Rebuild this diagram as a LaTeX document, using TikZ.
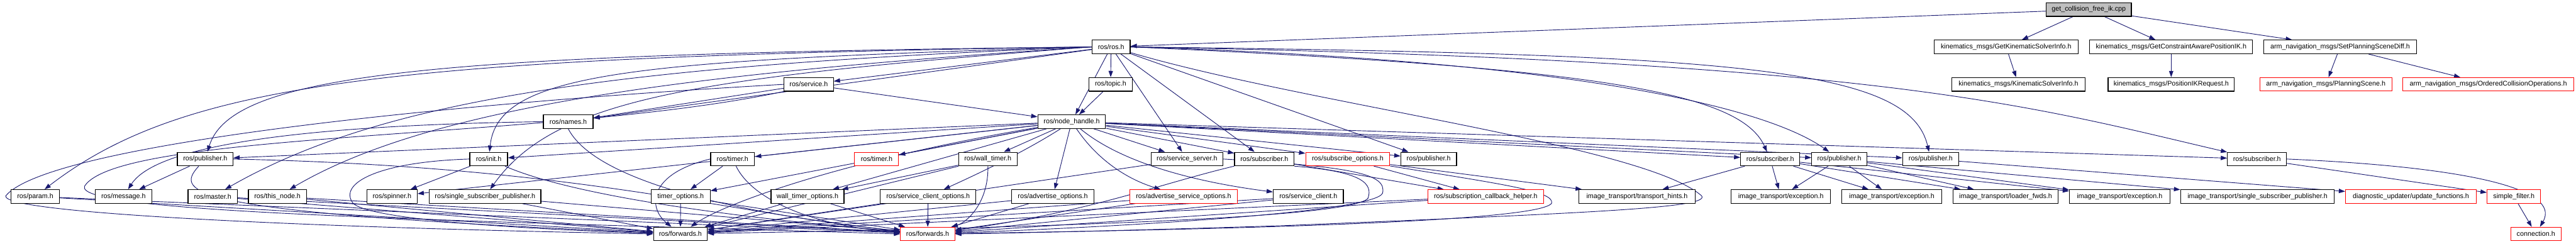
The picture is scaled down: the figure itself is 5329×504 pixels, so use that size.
\documentclass[tikz,border=0pt]{standalone}
\usepackage{fontspec}
\setmainfont{Liberation Sans}
\usetikzlibrary{arrows.meta,backgrounds}
\definecolor{navy}{RGB}{25,25,112}
\definecolor{rootgray}{RGB}{191,191,191}
\tikzset{
  box/.style={draw=black, line width=1.6pt, fill=white, minimum height=28pt, inner sep=0pt, anchor=center, font=\fontsize{14}{16}\selectfont},
  rbox/.style={box, draw=red, line width=1.3pt},
  link/.style={draw=navy, line width=1.2pt, -{Triangle[length=13pt,width=9pt]}}
}
\begin{document}
\begin{tikzpicture}[x=1pt,y=1pt]
\useasboundingbox (0,0) rectangle (5329,-504);
% row 0
\node[box, fill=rootgray, minimum width=176pt] (root) at (4321,-19.7) {get\_collision\_free\_ik.cpp};
% row 1
\node[box, minimum width=79pt] (ros) at (2298.5,-97) {ros/ros.h};
\node[box, minimum width=298pt] (gksi) at (4150,-97) {kinematics\_msgs/GetKinematicSolverInfo.h};
\node[box, minimum width=337pt] (gcapik) at (4491.5,-97) {kinematics\_msgs/GetConstraintAwarePositionIK.h};
\node[box, minimum width=316pt] (spsd) at (4841,-97) {arm\_navigation\_msgs/SetPlanningSceneDiff.h};
% row 2
\node[box, minimum width=89pt] (topic) at (2297.5,-174.5) {ros/topic.h};
\node[box, minimum width=102pt] (service) at (1673,-174.5) {ros/service.h};
\node[box, minimum width=275pt] (ksi) at (4175.5,-174.5) {kinematics\_msgs/KinematicSolverInfo.h};
\node[box, minimum width=261pt] (pikr) at (4491.5,-174.5) {kinematics\_msgs/PositionIKRequest.h};
\node[rbox, minimum width=273pt] (ps) at (4811.5,-174.5) {arm\_navigation\_msgs/PlanningScene.h};
\node[rbox, minimum width=353pt] (oco) at (5147.5,-174.5) {arm\_navigation\_msgs/OrderedCollisionOperations.h};
% row 3
\node[box, minimum width=103pt] (names) at (1175.5,-251.7) {ros/names.h};
\node[box, minimum width=140pt] (nh) at (2217,-251.7) {ros/node\_handle.h};
% row 4
\node[box, minimum width=115pt] (pubA) at (424.5,-329) {ros/publisher.h};
\node[box, minimum width=78pt] (init) at (1011,-329) {ros/init.h};
\node[box, minimum width=91pt] (timerA) at (1515.5,-329) {ros/timer.h};
\node[rbox, minimum width=91pt] (timerB) at (1813.5,-329) {ros/timer.h};
\node[box, minimum width=121pt] (wtimer) at (2043.5,-329) {ros/wall\_timer.h};
\node[box, minimum width=149pt] (ssrv) at (2455.5,-329) {ros/service\_server.h};
\node[box, minimum width=123pt] (subA) at (2615.5,-329) {ros/subscriber.h};
\node[rbox, minimum width=174pt] (subopts) at (2788,-329) {ros/subscribe\_options.h};
\node[box, minimum width=115pt] (pubB) at (2955.5,-329) {ros/publisher.h};
\node[box, minimum width=122pt] (subB) at (3662,-329) {ros/subscriber.h};
\node[box, minimum width=114pt] (pubC) at (3805,-329) {ros/publisher.h};
\node[box, minimum width=116pt] (pubD) at (3994,-329) {ros/publisher.h};
\node[box, minimum width=122pt] (subC) at (4669,-329) {ros/subscriber.h};
% row 5
\node[box, minimum width=100pt] (param) at (73,-406.5) {ros/param.h};
\node[box, minimum width=117pt] (message) at (255.5,-406.5) {ros/message.h};
\node[box, minimum width=102pt] (master) at (440,-406.5) {ros/master.h};
\node[box, minimum width=120pt] (thisnode) at (574,-406.5) {ros/this\_node.h};
\node[box, minimum width=104pt] (spinner) at (811,-406.5) {ros/spinner.h};
\node[box, minimum width=231pt] (ssp) at (1003.5,-406.5) {ros/single\_subscriber\_publisher.h};
\node[box, minimum width=122pt] (topts) at (1408,-406.5) {timer\_options.h};
\node[box, minimum width=151pt] (wtopts) at (1670.5,-406.5) {wall\_timer\_options.h};
\node[box, minimum width=198pt] (scopts) at (1920,-406.5) {ros/service\_client\_options.h};
\node[box, minimum width=170pt] (advopts) at (2178,-406.5) {ros/advertise\_options.h};
\node[rbox, minimum width=223pt] (advsrv) at (2448.5,-406.5) {ros/advertise\_service\_options.h};
\node[box, minimum width=145pt] (sclient) at (2706.5,-406.5) {ros/service\_client.h};
\node[rbox, minimum width=239pt] (sch) at (3073.5,-406.5) {ros/subscription\_callback\_helper.h};
\node[box, minimum width=241pt] (hints) at (3386.5,-406.5) {image\_transport/transport\_hints.h};
\node[box, minimum width=206pt] (exA) at (3684,-406.5) {image\_transport/exception.h};
\node[box, minimum width=207pt] (exB) at (3913.5,-406.5) {image\_transport/exception.h};
\node[box, minimum width=218pt] (lfwds) at (4149,-406.5) {image\_transport/loader\_fwds.h};
\node[box, minimum width=208pt] (exC) at (4385,-406.5) {image\_transport/exception.h};
\node[box, minimum width=318pt] (itssp) at (4670,-406.5) {image\_transport/single\_subscriber\_publisher.h};
\node[rbox, minimum width=271pt] (upd) at (4987.5,-406.5) {diagnostic\_updater/update\_functions.h};
\node[rbox, minimum width=111pt] (sfilter) at (5200.5,-406.5) {simple\_filter.h};
% row 6
\node[box, minimum width=111pt] (fwdA) at (1407.5,-484) {ros/forwards.h};
\node[rbox, minimum width=112pt] (fwdB) at (1919,-484) {ros/forwards.h};
\node[rbox, minimum width=104pt] (conn) at (5246,-484) {connection.h};

\begin{pgfonlayer}{background}
% root
\draw[link] (root) -- (ros);
\draw[link] (root) -- (gksi);
\draw[link] (root) -- (gcapik);
\draw[link] (root) -- (spsd);
\draw[link] (gksi) -- (ksi);
\draw[link] (gcapik) -- (pikr);
\draw[link] (spsd) -- (ps);
\draw[link] (spsd) -- (oco);
% ros.h
\draw[link] (ros) -- (topic);
\draw[link] (ros) -- (nh);
\draw[link] (ros) -- (service);
\draw[link] (ros) -- (names);
\draw[link] (ros) -- (ssrv);
\draw[link] (ros) -- (subA);
\draw[link] (ros) -- (pubB);
\draw[link] (ros.west) .. controls (900,-112) and (480,-150) .. (pubA);
\draw[link] (ros.west) .. controls (800,-118) and (380,-170) .. (param);
\draw[link] (ros.west) .. controls (1300,-135) and (800,-200) .. (master);
\draw[link] (ros.west) .. controls (1450,-150) and (900,-215) .. (thisnode);
\draw[link] (ros.west) .. controls (1300,-125) and (1030,-150) .. (init);
\draw[link] (ros.west) .. controls (1450,-160) and (1150,-200) .. (ssp);
\draw[link] (ros.east) .. controls (3300,-140) and (3600,-190) .. (subB);
\draw[link] (ros.east) .. controls (3250,-125) and (3650,-220) .. (pubC);
\draw[link] (ros.east) .. controls (3600,-112) and (3950,-140) .. (pubD);
\draw[link] (ros.east) .. controls (3900,-125) and (4200,-220) .. (subC);
\draw[link] (ros) .. controls (2700,-215) and (3400,-300) .. (3520,-405) .. controls (3540,-430) and (3300,-440) .. (2650,-467) .. controls (2300,-478) and (2100,-482) .. (fwdB.east);
% service.h
\draw[link] (service) -- (nh);
\draw[link] (service) -- (names);
\draw[link] (service.west) .. controls (900,-215) and (100,-300) .. (12,-405) .. controls (0,-440) and (600,-470) .. (fwdA.west);
\draw[link] (service.south west) .. controls (1150,-290) and (250,-270) .. (175,-385) .. controls (150,-440) and (900,-455) .. (fwdB.west);
% names.h
\draw[link] (names.west) .. controls (700,-258) and (330,-290) .. (message);
\draw[link] (names.south) .. controls (1240,-390) and (1600,-450) .. (fwdB);
% topic.h
\draw[link] (topic) -- (nh);
% node_handle.h
\draw[link] (nh) -- (pubA);
\draw[link] (nh) -- (init);
\draw[link] (nh) -- (timerA);
\draw[link] (nh) -- (timerB);
\draw[link] (nh) -- (wtimer);
\draw[link] (nh) -- (ssrv);
\draw[link] (nh) -- (subA);
\draw[link] (nh) -- (subopts);
\draw[link] (nh) -- (pubB);
\draw[link] (nh) -- (subB);
\draw[link] (nh) -- (pubC);
\draw[link] (nh) -- (pubD);
\draw[link] (nh) -- (subC);
\draw[link] (nh) -- (topts);
\draw[link] (nh) -- (wtopts);
\draw[link] (nh) .. controls (2110,-320) and (2000,-370) .. (scopts);
\draw[link] (nh) -- (advopts);
\draw[link] (nh) .. controls (2270,-330) and (2330,-370) .. (advsrv);
\draw[link] (nh) .. controls (2330,-345) and (2500,-380) .. (sclient);
\draw[link] (nh) -- (spinner);
\draw[link] (nh) .. controls (1750,-330) and (1500,-420) .. (fwdA);
% row 4 sources
\draw[link] (pubA) -- (message);
\draw[link] (pubA) .. controls (360,-400) and (380,-440) .. (fwdA);
\draw[link] (pubA.east) .. controls (1200,-345) and (1500,-440) .. (fwdB);
\draw[link] (init) -- (spinner);
\draw[link] (init.west) .. controls (780,-335) and (700,-380) .. (730,-420) .. controls (760,-455) and (1100,-475) .. (fwdA);
\draw[link] (init) .. controls (1150,-390) and (1400,-440) .. (fwdB);
\draw[link] (timerA) -- (topts);
\draw[link] (timerA.west) .. controls (1340,-360) and (1340,-430) .. (fwdA);
\draw[link] (timerA) .. controls (1560,-420) and (1700,-470) .. (fwdB);
\draw[link] (wtimer) -- (wtopts);
\draw[link] (wtimer) -- (fwdA);
\draw[link] (wtimer) .. controls (2045,-420) and (2000,-460) .. (fwdB);
\draw[link] (ssrv) -- (fwdA);
\draw[link] (ssrv.east) .. controls (2800,-345) and (2870,-360) .. (2860,-400) .. controls (2840,-440) and (2300,-470) .. (fwdB);
\draw[link] (subA) -- (sch);
\draw[link] (subA) .. controls (2400,-380) and (2250,-440) .. (fwdB);
\draw[link] (subA.south east) .. controls (2820,-355) and (2840,-380) .. (2830,-410) .. controls (2800,-450) and (2200,-470) .. (fwdA);
\draw[link] (subopts) -- (sch);
\draw[link] (subopts) -- (hints);
\draw[link] (subopts) .. controls (3100,-380) and (3215,-395) .. (3210,-420) .. controls (3190,-460) and (2500,-475) .. (fwdB);
\draw[link] (subB) -- (hints);
\draw[link] (subB) -- (exA);
\draw[link] (subB) -- (exB);
\draw[link] (subB) -- (lfwds);
\draw[link] (subB) -- (exC);
\draw[link] (pubC) -- (exA);
\draw[link] (pubC) -- (exB);
\draw[link] (pubC) -- (lfwds);
\draw[link] (pubC) -- (exC);
\draw[link] (pubC) -- (itssp);
\draw[link] (pubD) -- (upd);
\draw[link] (subC) -- (sfilter);
\draw[link] (subC.east) .. controls (5100,-345) and (5300,-390) .. (conn);
% row 5 sources
\draw[link] (param) -- (fwdA);
\draw[link] (param) -- (fwdB);
\draw[link] (master) -- (fwdA);
\draw[link] (master) -- (fwdB);
\draw[link] (thisnode) -- (fwdA);
\draw[link] (thisnode) -- (fwdB);
\draw[link] (ssp) -- (fwdA);
\draw[link] (ssp) -- (fwdB);
\draw[link] (topts) -- (fwdA);
\draw[link] (topts) -- (fwdB);
\draw[link] (wtopts) -- (fwdA);
\draw[link] (wtopts) -- (fwdB);
\draw[link] (scopts) -- (fwdA);
\draw[link] (scopts) -- (fwdB);
\draw[link] (advopts) -- (fwdA);
\draw[link] (advopts) -- (fwdB);
\draw[link] (advsrv) -- (fwdA);
\draw[link] (advsrv) -- (fwdB);
\draw[link] (sclient) -- (fwdA);
\draw[link] (sclient) -- (fwdB);
\draw[link] (sch) -- (fwdA);
\draw[link] (sch) -- (fwdB);
\draw[link] (sfilter) -- (conn);
\end{pgfonlayer}
\end{tikzpicture}
\end{document}
